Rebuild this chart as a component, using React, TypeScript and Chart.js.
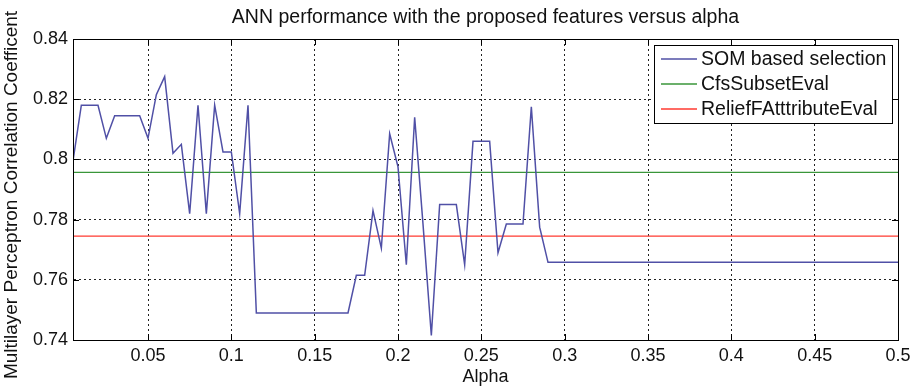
import React, { useEffect, useRef } from "react";
import { Chart, registerables } from "chart.js";

Chart.register(...registerables);

const alphas = [
  0.005, 0.01, 0.015, 0.02, 0.025, 0.03, 0.035, 0.04, 0.045, 0.05,
  0.055, 0.06, 0.065, 0.07, 0.075, 0.08, 0.085, 0.09, 0.095, 0.1,
  0.105, 0.11, 0.115, 0.12, 0.125, 0.13, 0.135, 0.14, 0.145, 0.15,
  0.155, 0.16, 0.165, 0.17, 0.175, 0.18, 0.185, 0.19, 0.195, 0.2,
  0.205, 0.21, 0.215, 0.22, 0.225, 0.23, 0.235, 0.24, 0.245, 0.25,
  0.255, 0.26, 0.265, 0.27, 0.275, 0.28, 0.285, 0.29, 0.295, 0.3,
  0.305, 0.31, 0.315, 0.32, 0.325, 0.33, 0.335, 0.34, 0.345, 0.35,
  0.355, 0.36, 0.365, 0.37, 0.375, 0.38, 0.385, 0.39, 0.395, 0.4,
  0.405, 0.41, 0.415, 0.42, 0.425, 0.43, 0.435, 0.44, 0.445, 0.45,
  0.455, 0.46, 0.465, 0.47, 0.475, 0.48, 0.485, 0.49, 0.495, 0.5,
];

const somValues = [
  0.7995, 0.818, 0.818, 0.818, 0.807, 0.8145, 0.8145, 0.8145, 0.8145, 0.807,
  0.8215, 0.8275, 0.802, 0.805, 0.782, 0.818, 0.782, 0.818, 0.8025, 0.8025,
  0.782, 0.818, 0.749, 0.749, 0.749, 0.749, 0.749, 0.749, 0.749, 0.749,
  0.749, 0.749, 0.749, 0.749, 0.7615, 0.7615, 0.783, 0.7705, 0.8085, 0.7975,
  0.765, 0.814, 0.7785, 0.7415, 0.785, 0.785, 0.785, 0.765, 0.806, 0.806,
  0.806, 0.769, 0.7785, 0.7785, 0.7785, 0.8175, 0.7775, 0.7658, 0.7658, 0.7658,
  0.7658, 0.7658, 0.7658, 0.7658, 0.7658, 0.7658, 0.7658, 0.7658, 0.7658, 0.7658,
  0.7658, 0.7658, 0.7658, 0.7658, 0.7658, 0.7658, 0.7658, 0.7658, 0.7658, 0.7658,
  0.7658, 0.7658, 0.7658, 0.7658, 0.7658, 0.7658, 0.7658, 0.7658, 0.7658, 0.7658,
  0.7658, 0.7658, 0.7658, 0.7658, 0.7658, 0.7658, 0.7658, 0.7658, 0.7658, 0.7658,
];

const cfsValue = 0.7957;
const reliefValue = 0.7745;

const seriesNames = ["SOM based selection", "CfsSubsetEval", "ReliefFAtttributeEval"];
const seriesColors = ["#5050a6", "#3a963a", "#ff3a30"];

const xTicks = [0.05, 0.1, 0.15, 0.2, 0.25, 0.3, 0.35, 0.4, 0.45, 0.5];
const yTicks = [0.74, 0.76, 0.78, 0.8, 0.82, 0.84];

const titleText = "ANN performance with the proposed features versus alpha";
const xLabel = "Alpha";
const yLabel = "Multilayer Perceptron Correlation Coefficent";

const FONT = "'Liberation Sans', Arial, sans-serif";

const decorPlugin = {
  id: "decor",
  afterDraw(chart: any) {
    const { ctx, chartArea } = chart;
    const { left, right, top, bottom } = chartArea;
    const xs = chart.scales.x;
    const ys = chart.scales.y;
    ctx.save();
    ctx.setLineDash([]);
    // box
    ctx.strokeStyle = "#000";
    ctx.lineWidth = 1;
    ctx.strokeRect(Math.round(left) + 0.5, Math.round(top) + 0.5, Math.round(right - left), Math.round(bottom - top));
    // inner tick marks
    ctx.beginPath();
    xTicks.forEach((v) => {
      const px = Math.round(xs.getPixelForValue(v)) + 0.5;
      ctx.moveTo(px, bottom);
      ctx.lineTo(px, bottom - 6);
      ctx.moveTo(px, top);
      ctx.lineTo(px, top + 6);
    });
    yTicks.forEach((v) => {
      const py = Math.round(ys.getPixelForValue(v)) + 0.5;
      ctx.moveTo(left, py);
      ctx.lineTo(left + 6, py);
      ctx.moveTo(right, py);
      ctx.lineTo(right - 6, py);
    });
    ctx.stroke();

    // legend
    const lx = 654, ly = 45, lw = 238, lh = 78;
    ctx.fillStyle = "#fff";
    ctx.fillRect(lx, ly, lw, lh);
    ctx.strokeStyle = "#000";
    ctx.lineWidth = 1;
    ctx.strokeRect(lx + 0.5, ly + 0.5, lw, lh);
    ctx.font = `19.5px ${FONT}`;
    ctx.textBaseline = "middle";
    ctx.textAlign = "left";
    seriesNames.forEach((name, i) => {
      const ry = ly + 14 + i * 25;
      ctx.beginPath();
      ctx.strokeStyle = seriesColors[i];
      ctx.lineWidth = 1.5;
      ctx.moveTo(lx + 7, ry);
      ctx.lineTo(lx + 43, ry);
      ctx.stroke();
      ctx.fillStyle = "#111";
      ctx.fillText(name, lx + 47, ry + 1);
    });

    // title
    ctx.fillStyle = "#111";
    ctx.textAlign = "center";
    ctx.textBaseline = "middle";
    ctx.font = `19.5px ${FONT}`;
    ctx.fillText(titleText, (left + right) / 2, 18);
    // x label
    ctx.font = `18px ${FONT}`;
    ctx.fillText(xLabel, (left + right) / 2, 377);
    // y label
    ctx.save();
    ctx.translate(12, 195);
    ctx.rotate(-Math.PI / 2);
    ctx.font = `19px ${FONT}`;
    ctx.fillText(yLabel, 0, 0);
    ctx.restore();
    ctx.restore();
  },
};

export default function App() {
  const canvasRef = useRef<HTMLCanvasElement>(null);

  useEffect(() => {
    const canvas = canvasRef.current;
    if (!canvas) return;
    const somData = alphas.map((a, i) => ({ x: a, y: somValues[i] }));
    const chart = new Chart(canvas, {
      type: "line",
      data: {
        datasets: [
          {
            label: seriesNames[0],
            data: somData,
            borderColor: seriesColors[0],
            borderWidth: 1.5,
            pointRadius: 0,
            tension: 0,
          },
          {
            label: seriesNames[1],
            data: [
              { x: alphas[0], y: cfsValue },
              { x: alphas[alphas.length - 1], y: cfsValue },
            ],
            borderColor: seriesColors[1],
            borderWidth: 1.2,
            pointRadius: 0,
          },
          {
            label: seriesNames[2],
            data: [
              { x: alphas[0], y: reliefValue },
              { x: alphas[alphas.length - 1], y: reliefValue },
            ],
            borderColor: seriesColors[2],
            borderWidth: 1.2,
            pointRadius: 0,
          },
        ],
      },
      options: {
        responsive: false,
        animation: false,
        layout: { padding: { left: 0, top: 39, right: 21, bottom: 0 } },
        plugins: {
          legend: { display: false },
          title: { display: false },
          tooltip: { enabled: false },
        },
        scales: {
          x: {
            type: "linear",
            min: 0.005,
            max: 0.5,
            afterBuildTicks: (scale: any) => {
              scale.ticks = xTicks.map((v) => ({ value: v }));
            },
            afterFit: (scale: any) => {
              scale.height = 48;
              scale.paddingLeft = 0;
              scale.paddingRight = 0;
            },
            grid: { color: "#222", lineWidth: 1, drawTicks: false },
            border: { display: true, color: "#000", dash: [2, 3] },
            ticks: {
              padding: 5,
              color: "#111",
              font: { family: FONT, size: 18 },
              maxRotation: 0,
              autoSkip: false,
              callback: (v: any) => String(Number(Number(v).toFixed(3))),
            },
          },
          y: {
            type: "linear",
            min: 0.74,
            max: 0.84,
            afterBuildTicks: (scale: any) => {
              scale.ticks = yTicks.map((v) => ({ value: v }));
            },
            afterFit: (scale: any) => {
              scale.width = 73;
              scale.paddingTop = 0;
              scale.paddingBottom = 0;
            },
            grid: { color: "#222", lineWidth: 1, drawTicks: false },
            border: { display: true, color: "#000", dash: [2, 3] },
            ticks: {
              padding: 5,
              color: "#111",
              font: { family: FONT, size: 18 },
              autoSkip: false,
              callback: (v: any) => String(Number(Number(v).toFixed(2))),
            },
          },
        },
      },
      plugins: [decorPlugin],
    });
    return () => chart.destroy();
  }, []);

  return (
    <div style={{ position: "fixed", left: 0, top: 0, width: 919, height: 388, background: "#fff" }}>
      <canvas ref={canvasRef} width={919} height={388} style={{ display: "block" }} />
    </div>
  );
}
